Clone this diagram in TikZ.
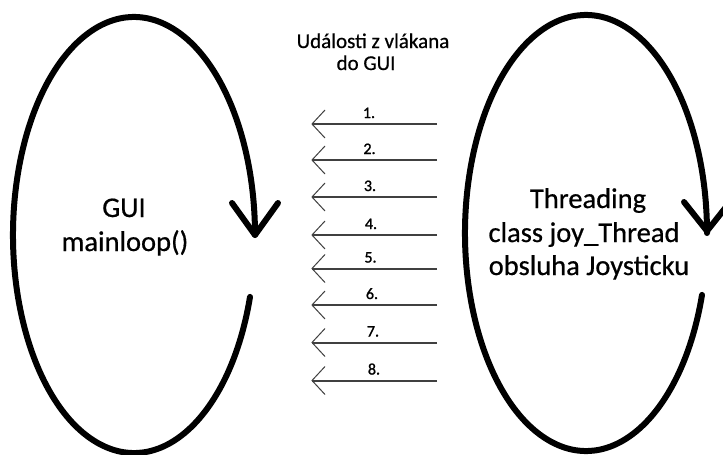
\documentclass[tikz,border=0pt]{standalone}
\usepackage{fontspec}
\setmainfont{Carlito}
\newfontfamily\bigfont[FakeBold=0.6]{Carlito}
\newfontfamily\numfont[FakeBold=1.2]{Carlito}
\usetikzlibrary{calc}
\begin{document}
\begin{tikzpicture}[x=1pt,y=-1pt,
  loop/.style={line width=6pt, line cap=round, line join=round, black},
  evt/.style={line width=2pt, color=black!75},
  barb/.style={line width=1pt, color=black!75},
  bigtxt/.style={font=\bigfont\fontsize{28.5}{34}\selectfont, text=black, anchor=base, inner sep=0pt},
  hdr/.style={font=\bigfont\fontsize{21}{22}\selectfont, text=black, anchor=base, inner sep=0pt},
  num/.style={font=\numfont\fontsize{16}{17}\selectfont, text=black, anchor=base, inner sep=0pt}]
\useasboundingbox (0,0) rectangle (723,455);
\fill[white] (0,0) rectangle (723,455);

% left loop (GUI)
\coordinate (lc) at (134,235);
\draw[loop] ($(lc)+(16.5:121 and 218)$) arc[start angle=16.5, end angle=360, x radius=121, y radius=218];
\coordinate (ltip) at (255,235);
\draw[loop] (232,203) -- (ltip) -- (278,203);

% right loop (Threading)
\coordinate (rc) at (586,233);
\draw[loop] ($(rc)+(16.5:121 and 218)$) arc[start angle=16.5, end angle=360, x radius=121, y radius=218];
\coordinate (rtip) at (707,231);
\draw[loop] (684,202) -- (rtip) -- (730,202);

% texts
\node[bigtxt] (gui1) at (124,217) {GUI};
\node[bigtxt] (gui2) at (125,251) {mainloop()};
\node[bigtxt] (thr1) at (588,208) {Threading};
\node[bigtxt] (thr2) at (584,242) {class joy\_Thread};
\node[bigtxt] (thr3) at (589,275) {obsluha Joysticku};
\node[hdr] (h1) at (373,48) {Události z vlákana};
\node[hdr] (h2) at (366,70) {do GUI};

% event arrows
\foreach \i/\y/\lx in {1/124/369,2/160/369.5,3/197/370,4/235/371,5/268.5/370.5,6/305/372,7/342.5/373,8/380.5/374}{
  \coordinate (s\i) at (437,\y);
  \coordinate (e\i) at (312,\y);
  \draw[evt] (s\i) -- (e\i);
  \draw[barb] ($(e\i)+(13,-14)$) -- (e\i) -- ($(e\i)+(13,14)$);
  \node[num] (n\i) at (\lx,\y-6) {\i.};
}
\end{tikzpicture}
\end{document}
